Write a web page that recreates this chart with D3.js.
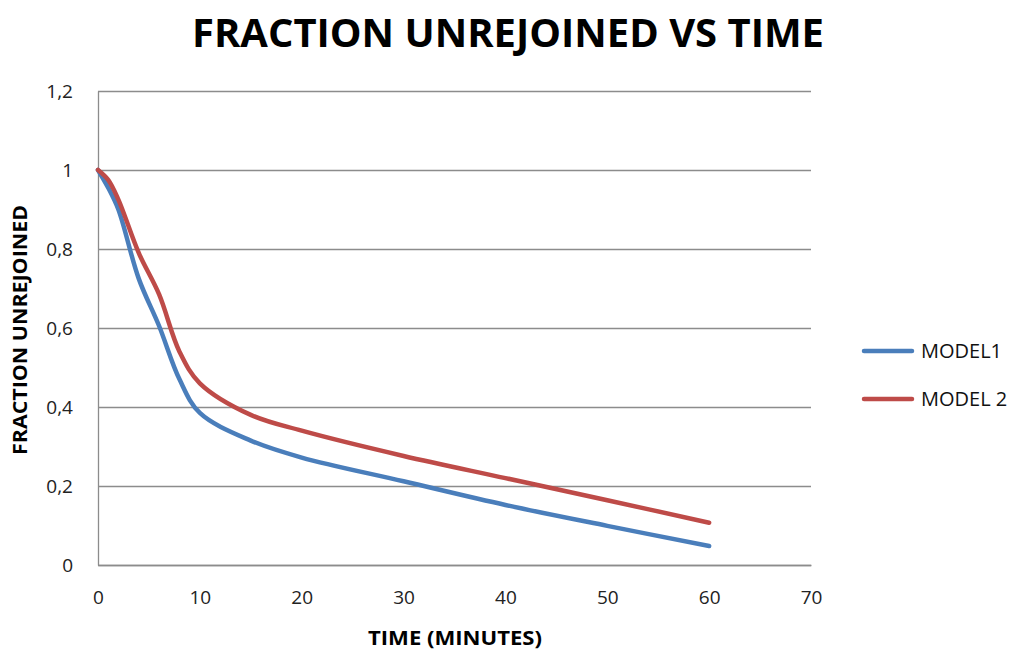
<!DOCTYPE html>
<html>
<head>
<meta charset="utf-8">
<script src="https://cdn.jsdelivr.net/npm/d3@7/dist/d3.min.js"></script>
<style>
  html, body { margin: 0; padding: 0; background: #fff; }
  svg { display: block; font-family: "Open Sans", "DejaVu Sans", sans-serif; }
</style>
</head>
<body>
<svg id="chart" width="1024" height="653"></svg>
<script>
const times = [0, 1, 2, 4, 6, 8, 10, 15, 20, 30, 40, 50, 60];
const model1 = [1.0, 0.955, 0.90, 0.725, 0.605, 0.47, 0.385, 0.315, 0.272, 0.212, 0.152, 0.099, 0.048];
const model2 = [1.0, 0.975, 0.925, 0.79, 0.685, 0.54, 0.46, 0.38, 0.34, 0.276, 0.22, 0.164, 0.107];
const seriesNames = ["MODEL1", "MODEL 2"];
const seriesColors = ["#4a7ebb", "#be4b48"];
const xTicks = [0, 10, 20, 30, 40, 50, 60, 70];
const yTicks = [0, 0.2, 0.4, 0.6, 0.8, 1, 1.2];
const title = "FRACTION UNREJOINED VS TIME";
const xTitle = "TIME  (MINUTES)";
const yTitle = "FRACTION UNREJOINED";

(function () {
const svg = d3.select("#chart");
const pL = 98, pR = 811, pT = 91, pB = 565;

const x = d3.scaleLinear().domain([0, 70]).range([pL, pR]);
const y = d3.scaleLinear().domain([0, 1.2]).range([pB, pT]);

// gridlines
svg.append("g")
  .attr("transform", `translate(${pL},0)`)
  .call(d3.axisLeft(y).tickValues(yTicks).tickSize(-(pR - pL)).tickFormat(""))
  .call(g => g.select(".domain").remove())
  .call(g => g.selectAll("line").attr("stroke", "#8c8c8c").attr("stroke-width", 1.3));

// y axis
svg.append("g")
  .attr("transform", `translate(${pL},0)`)
  .call(d3.axisLeft(y).tickValues(yTicks).tickSize(0).tickPadding(25)
    .tickFormat(d => String(d).replace(".", ",")))
  .call(g => g.select(".domain").attr("stroke", "#8c8c8c").attr("stroke-width", 1.3))
  .call(g => g.selectAll("text").attr("font-size", 19).attr("fill", "#222")
    .attr("font-family", "'Open Sans', sans-serif"));

// x axis
svg.append("g")
  .attr("transform", `translate(0,${pB})`)
  .call(d3.axisBottom(x).tickValues(xTicks).tickSize(0).tickPadding(26).tickFormat(d3.format("d")))
  .call(g => g.select(".domain").attr("stroke", "#8c8c8c").attr("stroke-width", 1.3))
  .call(g => g.selectAll("text").attr("font-size", 19).attr("fill", "#222")
    .attr("font-family", "'Open Sans', sans-serif"));

// lines
const line = d3.line()
  .x((d, i) => x(times[i]))
  .y(d => y(d))
  .curve(d3.curveCatmullRom.alpha(0.5));

[model1, model2].forEach((vals, k) => {
  svg.append("path")
    .datum(vals)
    .attr("d", line)
    .attr("fill", "none")
    .attr("stroke", seriesColors[k])
    .attr("stroke-width", 4.5)
    .attr("stroke-linecap", "round")
    .attr("stroke-linejoin", "round");
});

// title
svg.append("text")
  .attr("x", 508).attr("y", 47)
  .attr("text-anchor", "middle")
  .attr("font-size", 40).attr("font-weight", "bold").attr("fill", "#000")
  .attr("textLength", 632).attr("lengthAdjust", "spacingAndGlyphs")
  .text(title);

// x title
svg.append("text")
  .attr("x", 455).attr("y", 645)
  .attr("text-anchor", "middle")
  .attr("font-size", 20).attr("font-weight", "bold").attr("fill", "#000")
  .attr("textLength", 174).attr("lengthAdjust", "spacingAndGlyphs")
  .text(xTitle);

// y title
svg.append("text")
  .attr("transform", "translate(27,330) rotate(-90)")
  .attr("text-anchor", "middle")
  .attr("font-size", 20).attr("font-weight", "bold").attr("fill", "#000")
  .attr("textLength", 250).attr("lengthAdjust", "spacingAndGlyphs")
  .text(yTitle);

// legend
const legendY = [351, 399];
seriesNames.forEach((name, k) => {
  svg.append("line")
    .attr("x1", 864).attr("x2", 912)
    .attr("y1", legendY[k]).attr("y2", legendY[k])
    .attr("stroke", seriesColors[k]).attr("stroke-width", 4.5)
    .attr("stroke-linecap", "round");
  svg.append("text")
    .attr("x", 921).attr("y", legendY[k] + 7)
    .attr("font-size", 20).attr("fill", "#111")
    .text(name);
});
})();
</script>
</body>
</html>
